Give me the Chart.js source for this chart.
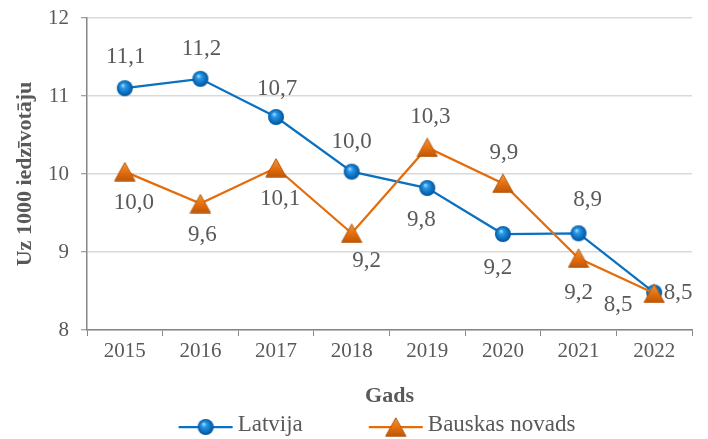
<!DOCTYPE html>
<html>
<head>
<meta charset="utf-8">
<script src="https://cdn.jsdelivr.net/npm/chart.js@4/dist/chart.umd.min.js"></script>
<style>
html,body{margin:0;padding:0;background:#ffffff;}
#wrap{width:708px;height:439px;}
</style>
</head>
<body>
<div id="wrap"><canvas id="c" width="708" height="439"></canvas></div>
<script>
// ---- data ----
const years = ['2015', '2016', '2017', '2018', '2019', '2020', '2021', '2022'];
const latvija = [11.10, 11.22, 10.73, 10.03, 9.82, 9.23, 9.24, 8.48];
const bauskas = [10.03, 9.62, 10.08, 9.24, 10.34, 9.88, 8.92, 8.47];
const yTicks = [8, 9, 10, 11, 12];
const seriesNames = ['Latvija', 'Bauskas novads'];
const xTitle = 'Gads';
const yTitle = 'Uz 1000 iedzīvotāju';

// ---- styles ----
const FONT = '"Liberation Serif", "Times New Roman", serif';
const TEXT = '#595959';
const BLUE = '#0A70C0';
const ORANGE = '#E46C0A';

function sphereImage() {
  const c = document.createElement('canvas');
  c.width = 18; c.height = 18;
  const g = c.getContext('2d');
  const grd = g.createRadialGradient(7, 6, 0.5, 9, 9, 8.5);
  grd.addColorStop(0, '#9bd6ff');
  grd.addColorStop(0.25, '#2a98e6');
  grd.addColorStop(0.7, '#0a6cbc');
  grd.addColorStop(1, '#04508f');
  g.fillStyle = grd;
  g.beginPath(); g.arc(9, 9, 8, 0, Math.PI * 2); g.fill();
  return c;
}
function triangleImage() {
  const c = document.createElement('canvas');
  c.width = 22; c.height = 20;
  const g = c.getContext('2d');
  const grd = g.createLinearGradient(0, 0, 0, 20);
  grd.addColorStop(0, '#f39a3c');
  grd.addColorStop(0.6, '#e06a0a');
  grd.addColorStop(1, '#b85508');
  g.fillStyle = grd;
  g.strokeStyle = '#b85a10';
  g.lineWidth = 1;
  g.beginPath(); g.moveTo(11, 0.8); g.lineTo(21.2, 19.2); g.lineTo(0.8, 19.2); g.closePath();
  g.fill(); g.stroke();
  return c;
}
const markers = [sphereImage(), triangleImage()];
const colors = [BLUE, ORANGE];

const labelPlugin = {
  id: 'valueLabels',
  afterDatasetsDraw(chart, args, opts) {
    const ctx = chart.ctx;
    ctx.save();
    ctx.font = '23px ' + FONT;
    ctx.fillStyle = TEXT;
    ctx.textAlign = 'center';
    ctx.textBaseline = 'middle';
    chart.data.datasets.forEach((ds, i) => {
      const meta = chart.getDatasetMeta(i);
      const offs = opts.offsets[i];
      meta.data.forEach((pt, j) => {
        const txt = ds.data[j].toFixed(1).replace('.', ',');
        ctx.fillText(txt, pt.x + offs[j][0], pt.y + offs[j][1]);
      });
    });
    ctx.restore();
  }
};

const legendPlugin = {
  id: 'excelLegend',
  afterDraw(chart, args, opts) {
    const ctx = chart.ctx;
    ctx.save();
    ctx.font = '23px ' + FONT;
    ctx.textBaseline = 'middle';
    ctx.textAlign = 'left';
    const lineLen = 54, gapText = 5, gapItem = 66;
    const widths = seriesNames.map(n => ctx.measureText(n).width);
    let total = 0;
    widths.forEach((w, i) => { total += lineLen + gapText + w + (i < widths.length - 1 ? gapItem : 0); });
    let x = opts.centerX - total / 2;
    const y = opts.y;
    seriesNames.forEach((name, i) => {
      ctx.strokeStyle = colors[i];
      ctx.lineWidth = 2.25;
      ctx.beginPath(); ctx.moveTo(x, y + 2); ctx.lineTo(x + lineLen, y + 2); ctx.stroke();
      const m = markers[i];
      ctx.drawImage(m, x + lineLen / 2 - m.width / 2, y + 2 - m.height / 2);
      ctx.fillStyle = TEXT;
      ctx.fillText(name, x + lineLen + gapText, y);
      x += lineLen + gapText + widths[i] + gapItem;
    });
    ctx.restore();
  }
};

new Chart(document.getElementById('c'), {
  type: 'line',
  data: {
    labels: years,
    datasets: [
      {
        label: seriesNames[0], data: latvija, order: 2,
        borderColor: BLUE, borderWidth: 2.25, tension: 0,
        pointStyle: markers[0], pointRadius: 8, pointHoverRadius: 8
      },
      {
        label: seriesNames[1], data: bauskas, order: 1,
        borderColor: ORANGE, borderWidth: 2.25, tension: 0,
        pointStyle: markers[1], pointRadius: 10, pointHoverRadius: 10
      }
    ]
  },
  options: {
    responsive: false,
    animation: false,
    events: [],
    layout: { padding: { top: 18, right: 16, left: 0, bottom: 29 } },
    plugins: {
      legend: { display: false },
      tooltip: { enabled: false },
      valueLabels: {
        offsets: [
          [[1, -31], [1, -30], [1, -28], [0, -30], [-6, 32], [-5, 34], [0, 60], [-36, 12]],
          [[9, 31], [2, 31], [4, 31], [15, 28], [3, -31], [1, -30], [9, -58], [24, 0]]
        ]
      },
      excelLegend: { centerX: 377, y: 425 }
    },
    scales: {
      x: {
        offset: true,
        grid: { offset: true, drawOnChartArea: false, drawTicks: true, tickLength: 6, tickColor: '#868686', tickWidth: 1 },
        border: { display: true, color: '#868686', width: 1.5 },
        ticks: { color: TEXT, font: { family: FONT, size: 21 }, padding: 3, maxRotation: 0 },
        title: { display: true, text: xTitle, color: TEXT, font: { family: FONT, size: 22, weight: 'bold' }, padding: { top: 0, bottom: 0 } },
        afterFit(s) { s.height = 80; s.paddingLeft = 0; s.paddingRight = 0; }
      },
      y: {
        min: 8, max: 12,
        afterBuildTicks(s) { s.ticks = yTicks.map(v => ({ value: v })); },
        grid: { color: '#d9d9d9', lineWidth: 1.5, tickLength: 6, tickColor: '#868686', tickWidth: 1 },
        border: { display: true, color: '#868686', width: 1.5 },
        ticks: { color: TEXT, font: { family: FONT, size: 21 }, padding: 12 },
        title: { display: true, text: yTitle, color: TEXT, font: { family: FONT, size: 22, weight: 'bold' }, padding: { top: 12, bottom: 0 } },
        afterFit(s) { s.width = 87; s.paddingTop = 0; s.paddingBottom = 0; }
      }
    }
  },
  plugins: [labelPlugin, legendPlugin]
});
</script>
</body>
</html>
